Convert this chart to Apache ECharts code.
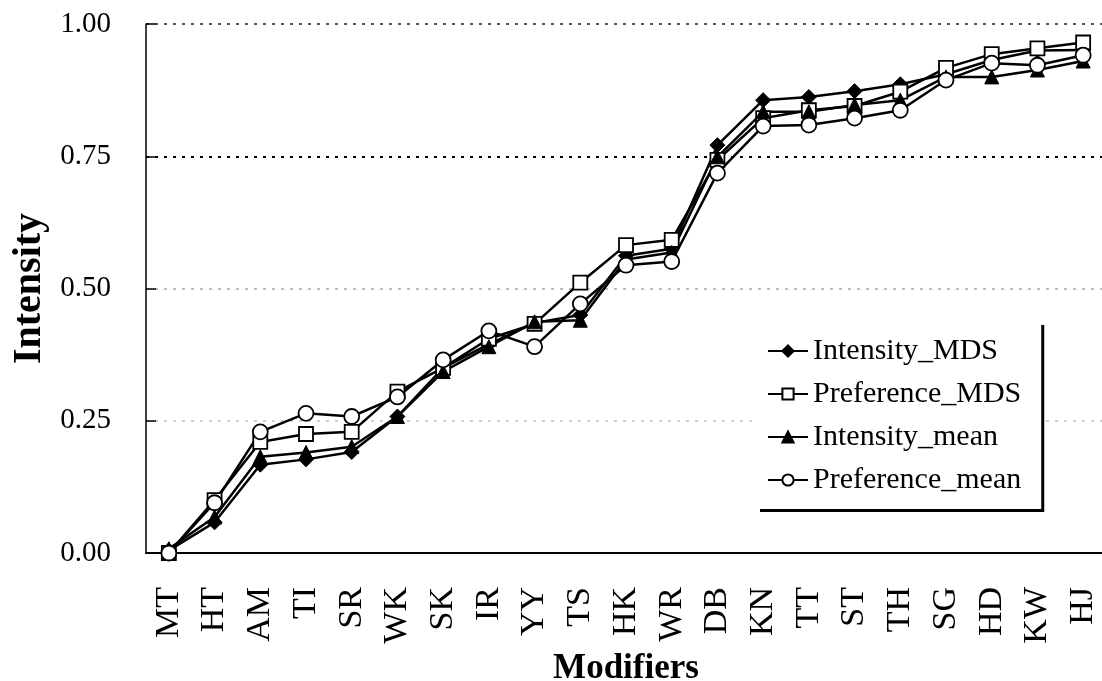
<!DOCTYPE html>
<html>
<head>
<meta charset="utf-8">
<script src="https://cdn.jsdelivr.net/npm/echarts@6/dist/echarts.min.js"></script>
<style>
html,body{margin:0;padding:0;background:#fff;}
#chart{width:1102px;height:681px;}
</style>
</head>
<body>
<div id="chart"></div>
<script>
var categories = ['MT','HT','AM','TI','SR','WK','SK','IR','YY','TS','HK','WR','DB','KN','TT','ST','TH','SG','HD','KW','HJ'];
var intensityMDS   = [0.005,0.058,0.167,0.177,0.191,0.258,0.350,0.395,0.435,0.450,0.562,0.575,0.771,0.856,0.862,0.873,0.886,0.905,0.932,0.950,0.951];
var preferenceMDS  = [0.000,0.100,0.210,0.225,0.229,0.305,0.350,0.405,0.433,0.511,0.582,0.592,0.743,0.822,0.837,0.845,0.872,0.917,0.943,0.954,0.965];
var intensityMean  = [0.008,0.068,0.182,0.190,0.201,0.258,0.343,0.390,0.437,0.440,0.555,0.568,0.749,0.834,0.834,0.847,0.856,0.900,0.900,0.913,0.930];
var preferenceMean = [0.000,0.095,0.229,0.264,0.258,0.295,0.365,0.420,0.390,0.471,0.544,0.551,0.718,0.807,0.809,0.822,0.837,0.894,0.926,0.922,0.941];
var yTicks = [0, 0.25, 0.5, 0.75, 1.0];

var FONT = "'Liberation Serif','Times New Roman',serif";

function mk(name, data, symbol, size, filled) {
  return {
    name: name,
    type: 'line',
    data: data,
    symbol: symbol,
    symbolSize: size,
    showAllSymbol: true,
    lineStyle: {color: '#000', width: 2.5},
    itemStyle: filled ? {color: '#000', borderColor: '#000', borderWidth: 1}
                      : {color: '#fff', borderColor: '#000', borderWidth: 1.8},
    emphasis: {disabled: true},
    animation: false
  };
}

var chart = echarts.init(document.getElementById('chart'), null, {renderer: 'canvas'});
chart.setOption({
  backgroundColor: '#fff',
  animation: false,
  textStyle: {fontFamily: FONT, color: '#000'},
  grid: {left: 146, top: 24, width: 960, height: 529, containLabel: false, outerBoundsMode: 'none'},
  legend: {
    orient: 'vertical',
    left: 757,
    top: 322,
    padding: [14, 20, 14, 10],
    itemGap: 13,
    itemWidth: 40,
    itemHeight: 14,
    backgroundColor: '#fff',
    borderWidth: 0,
    shadowColor: '#000',
    shadowBlur: 0,
    shadowOffsetX: 3,
    shadowOffsetY: 3,
    textStyle: {fontFamily: FONT, fontSize: 30, color: '#000', lineHeight: 30},
    data: ['Intensity_MDS','Preference_MDS','Intensity_mean','Preference_mean']
  },
  xAxis: {
    type: 'category',
    data: categories,
    boundaryGap: true,
    name: 'Modifiers',
    nameLocation: 'middle',
    nameGap: 88,
    nameTextStyle: {fontFamily: FONT, fontSize: 35, fontWeight: 'bold', color: '#000'},
    axisLine: {lineStyle: {color: '#000', width: 2}},
    axisTick: {inside: true, length: 9, interval: 0, lineStyle: {color: '#000', width: 1.5}},
    axisLabel: {rotate: 90, margin: 34, interval: 0, fontFamily: FONT, fontSize: 34, color: '#000'},
    splitLine: {show: false}
  },
  yAxis: {
    type: 'value',
    min: 0,
    max: 1,
    interval: 0.25,
    name: 'Intensity',
    nameLocation: 'middle',
    nameGap: 96,
    nameTextStyle: {fontFamily: FONT, fontSize: 40, fontWeight: 'bold', color: '#000'},
    axisLine: {show: true, lineStyle: {color: '#000', width: 1.5}},
    axisTick: {show: true, inside: true, length: 10, lineStyle: {color: '#000', width: 1.5}},
    axisLabel: {margin: 35, fontFamily: FONT, fontSize: 29, color: '#000',
      formatter: function (v) { return yTicks.indexOf(v) >= 0 ? v.toFixed(2) : ''; }},
    splitLine: {show: true, lineStyle: {color: ['#000', '#cfcfcf', '#bdbdbd', '#000', '#555'], type: [3, 6], width: 1.8}}
  },
  series: [
    mk('Intensity_MDS', intensityMDS, 'diamond', 15, true),
    mk('Preference_MDS', preferenceMDS, 'rect', 14, false),
    mk('Intensity_mean', intensityMean, 'triangle', 14, true),
    mk('Preference_mean', preferenceMean, 'circle', 15, false)
  ]
});
</script>
</body>
</html>
